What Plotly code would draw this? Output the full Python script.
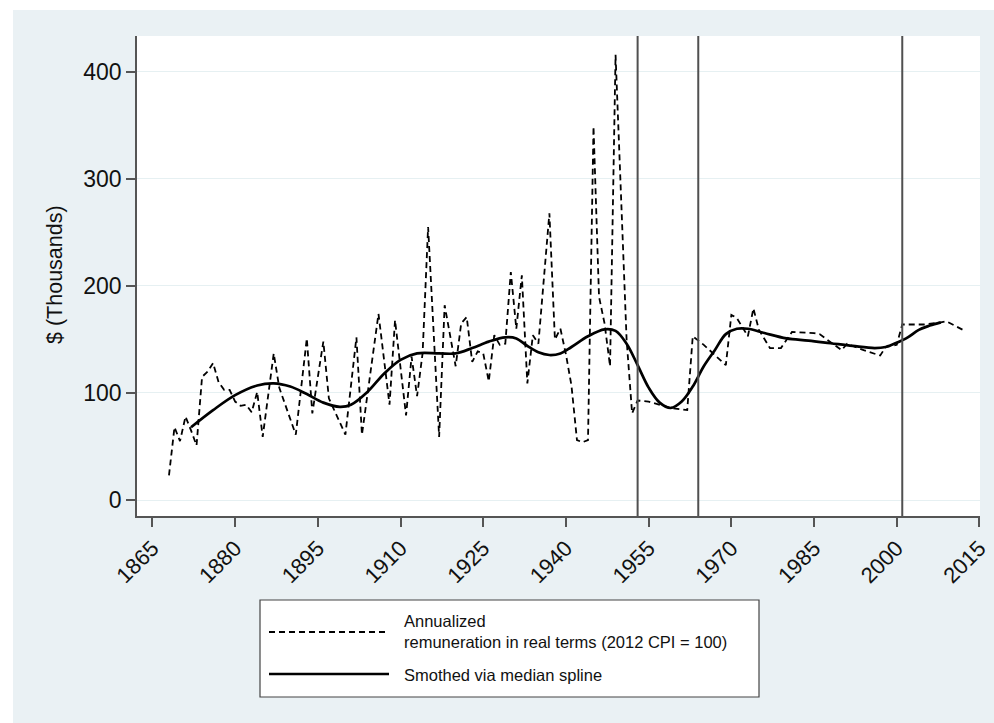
import plotly.graph_objects as go

# ---------------- data ----------------
raw_years = [1868, 1869, 1870, 1871, 1872, 1873, 1874, 1875, 1876, 1877, 1878, 1879,
             1880, 1881, 1882, 1883, 1884, 1885, 1886, 1887, 1888, 1889, 1890, 1891,
             1893, 1894, 1895, 1896, 1897, 1900, 1902, 1903, 1906, 1908, 1909, 1911,
             1912, 1913, 1914, 1915, 1917, 1918, 1920, 1921, 1922, 1923, 1924, 1925,
             1926, 1927, 1928, 1929, 1930, 1931, 1932, 1933, 1934, 1935, 1937, 1938,
             1939, 1940, 1941, 1942, 1943, 1944, 1945, 1946, 1947, 1948, 1949, 1950,
             1951, 1952, 1953, 1955, 1959, 1962, 1963, 1965, 1969, 1970, 1971, 1973,
             1974, 1975, 1977, 1979, 1981, 1985, 1986, 1990, 1991, 1994, 1997, 1998,
             2000, 2001, 2005, 2008, 2009, 2012]
raw_values = [23, 68, 55, 78, 65, 51, 115, 120, 128, 110, 103, 103,
              92, 88, 89, 82, 101, 59, 98, 137, 105, 90, 75, 61,
              151, 81, 115, 148, 95, 61, 152, 61, 174, 89, 168, 79,
              134, 97, 137, 255, 59, 182, 125, 165, 171, 129, 139, 137,
              111, 154, 145, 146, 213, 160, 210, 109, 154, 146, 268, 150,
              160, 136, 107, 56, 54, 56, 349, 190, 165, 125, 416, 275,
              150, 81, 93, 92, 86, 84, 153, 145, 126, 173, 170, 153,
              179, 159, 142, 142, 157, 156, 155, 140, 146, 140, 135, 143,
              145, 164, 164, 166, 167, 159]

smooth_years = [1872, 1876, 1880, 1884, 1887, 1890, 1893, 1896, 1899, 1901, 1904, 1907,
                1910, 1913, 1917, 1920, 1923, 1926, 1929, 1931, 1933, 1935, 1937, 1939,
                1941, 1944, 1947, 1949, 1951, 1953, 1955, 1957, 1959, 1961, 1963, 1965,
                1967, 1969, 1971, 1973, 1976, 1980, 1984, 1988, 1992, 1996, 1998, 2000,
                2002, 2004, 2006, 2008]
smooth_values = [68, 84, 98, 107, 109, 106, 99, 91, 87, 89, 101, 118,
                 131, 137, 137, 137, 142, 148, 152, 151, 144, 138, 135.5, 137,
                 143, 153, 159.5, 158, 146, 126, 105, 91, 86, 92, 106, 125,
                 140, 155, 160, 160, 156, 151, 149, 146.5, 144, 142, 143, 147,
                 152, 159, 163, 166]

event_years = [1953, 1964, 2001]
x_ticks = [1865, 1880, 1895, 1910, 1925, 1940, 1955, 1970, 1985, 2000, 2015]
y_ticks = [0, 100, 200, 300, 400]

legend_labels = ["Annualized<br>remuneration in real terms (2012 CPI = 100)",
                 "Smothed via median spline"]

# ---------------- layout geometry (pixels) ----------------
W, H = 994, 723
L, R, T, B = 137, 980, 36, 516

def px_x(p):
    return (p - L) / (R - L)

def px_y(p):
    return (B - p) / (B - T)

BG = "#EAF1F4"
AX = "#555555"
FONT = "Liberation Sans, Arial, sans-serif"

fig = go.Figure()
fig.add_trace(go.Scatter(x=raw_years, y=raw_values, mode="lines",
                         line=dict(color="black", width=1.8, dash="6px,4px"),
                         showlegend=False, hoverinfo="skip"))
fig.add_trace(go.Scatter(x=smooth_years, y=smooth_values, mode="lines",
                         line=dict(color="black", width=2.7, shape="spline", smoothing=1.0),
                         showlegend=False, hoverinfo="skip"))

shapes = []
# white outer strips (left and top) around the tinted panel
shapes.append(dict(type="rect", xref="paper", yref="paper",
                   x0=px_x(-5), x1=px_x(13), y0=px_y(H + 5), y1=px_y(-5),
                   fillcolor="white", line=dict(width=0), layer="below"))
shapes.append(dict(type="rect", xref="paper", yref="paper",
                   x0=px_x(-5), x1=px_x(W + 5), y0=px_y(10), y1=px_y(-5),
                   fillcolor="white", line=dict(width=0), layer="below"))
# event lines
for ey in event_years:
    shapes.append(dict(type="line", xref="x", yref="paper", x0=ey, x1=ey, y0=0, y1=1,
                       line=dict(color="#505050", width=2)))
# legend box
shapes.append(dict(type="rect", xref="paper", yref="paper",
                   x0=px_x(260), x1=px_x(759), y0=px_y(697), y1=px_y(600),
                   fillcolor="white", line=dict(color="#444444", width=1.2)))
shapes.append(dict(type="line", xref="paper", yref="paper",
                   x0=px_x(269), x1=px_x(389), y0=px_y(632), y1=px_y(632),
                   line=dict(color="black", width=1.8, dash="6px,4px")))
shapes.append(dict(type="line", xref="paper", yref="paper",
                   x0=px_x(269), x1=px_x(389), y0=px_y(674), y1=px_y(674),
                   line=dict(color="black", width=2.7)))

annotations = [
    dict(text=legend_labels[0], xref="paper", yref="paper", x=px_x(402), y=px_y(631),
         xanchor="left", yanchor="middle", align="left", showarrow=False,
         font=dict(family=FONT, size=16.5, color="#111111")),
    dict(text=legend_labels[1], xref="paper", yref="paper", x=px_x(402), y=px_y(675),
         xanchor="left", yanchor="middle", align="left", showarrow=False,
         font=dict(family=FONT, size=16.5, color="#111111")),
    dict(text="$ (Thousands)", xref="paper", yref="paper", x=px_x(55), y=px_y(275),
         xanchor="center", yanchor="middle", textangle=-90, showarrow=False,
         font=dict(family=FONT, size=21.5, color="#111111")),
]

fig.update_layout(
    width=W, height=H,
    margin=dict(l=L, r=W - R, t=T, b=H - B, pad=0, autoexpand=False),
    paper_bgcolor=BG, plot_bgcolor="white",
    shapes=shapes, annotations=annotations,
    showlegend=False,
    font=dict(family=FONT, color="#111111"),
)
fig.update_xaxes(range=[1862.2, 2015.1], tickvals=x_ticks, tickangle=-45,
                 ticks="outside", ticklen=9, tickwidth=1.5, tickcolor=AX,
                 showline=True, linecolor=AX, linewidth=1.5, showgrid=False,
                 zeroline=False, automargin=False,
                 tickfont=dict(family=FONT, size=22, color="#111111"))
fig.update_yaxes(range=[-14.95, 433.6], tickvals=y_ticks,
                 ticks="outside", ticklen=9, tickwidth=1.5, tickcolor=AX,
                 showline=True, linecolor=AX, linewidth=1.5, showgrid=True,
                 gridcolor="#E6F0F2", gridwidth=1.2, zeroline=False, automargin=False,
                 tickfont=dict(family=FONT, size=23, color="#111111"))

fig.write_html("out.html")
